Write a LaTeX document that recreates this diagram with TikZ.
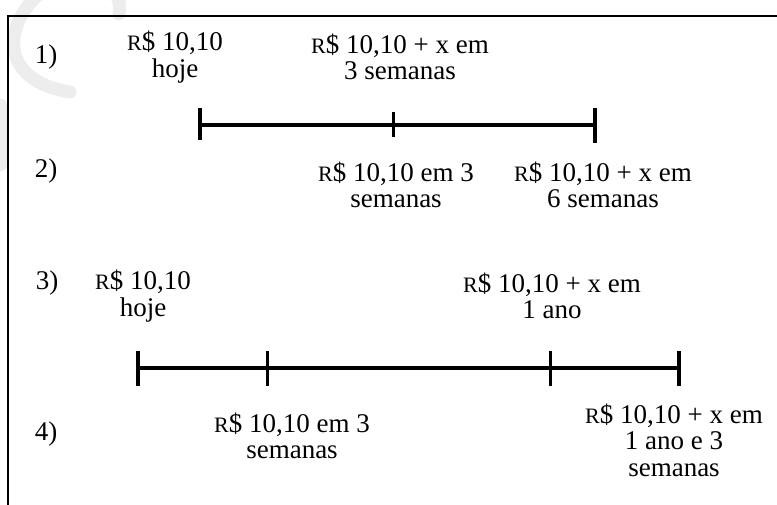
\documentclass[tikz,border=0pt]{standalone}
\usepackage{fontspec}
\setmainfont{Liberation Serif}
\newcommand\RSgn{{\fontsize{22bp}{22bp}\selectfont R}\$}
\tikzset{
  lbl/.style={inner sep=0pt, font=\fontsize{27bp}{26.5bp}\selectfont, align=center},
  axisline/.style={line width=4bp},
  endtick/.style={line width=4bp},
  midtick/.style={line width=3bp},
  frameline/.style={line width=2.5bp},
  markstroke/.style={line width=13bp, color=black!7, line cap=round}
}
\begin{document}
\begin{tikzpicture}[x=1bp,y=-1bp]
\useasboundingbox (0,0) rectangle (777,505);
% faint watermark artefact
\draw[markstroke] (42,-8) .. controls (5,20) and (-5,80) .. (70,92);
\draw[markstroke] (114,-8) .. controls (120,2) .. (119,14);
\draw[markstroke] (0,105) -- (0,165);
% frame
\coordinate (fa) at (8,505);
\coordinate (fb) at (8,16);
\coordinate (fc) at (777,16);
\draw[frameline] (fa) -- (fb) -- (fc);
% labels
\node[lbl] (n1) at (46,57) {1)};
\node[lbl] (n2) at (46,171) {2)};
\node[lbl] (n3) at (47,283) {3)};
\node[lbl] (n4) at (46,434) {4)};
% row 1 texts
\node[lbl] (a) at (175,57) {\RSgn{} 10,10\\hoje};
\node[lbl] (b) at (400,57) {\RSgn{} 10,10 + x em\\3 semanas};
% timeline 1
\coordinate (p1) at (200,125);
\coordinate (p2) at (393,125);
\coordinate (p3) at (595,125);
\draw[axisline] (p1) -- (p3);
\draw[endtick] ([yshift=17bp]p1) -- ([yshift=-15bp]p1);
\draw[midtick] ([yshift=13bp]p2) -- ([yshift=-12bp]p2);
\draw[endtick] ([yshift=17bp]p3) -- ([yshift=-18bp]p3);
% row 2 texts
\node[lbl] (c) at (396,185) {\RSgn{} 10,10 em 3\\semanas};
\node[lbl] (d) at (603,185) {\RSgn{} 10,10 + x em\\6 semanas};
% row 3 texts
\node[lbl] (e) at (143,296) {\RSgn{} 10,10\\hoje};
\node[lbl] (f) at (552,296) {\RSgn{} 10,10 + x em\\1 ano};
% timeline 2
\coordinate (q1) at (138,368);
\coordinate (q2) at (267,368);
\coordinate (q3) at (550,368);
\coordinate (q4) at (679,368);
\draw[axisline] (q1) -- (q4);
\draw[endtick] ([yshift=17bp]q1) -- ([yshift=-18bp]q1);
\draw[midtick] ([yshift=17bp]q2) -- ([yshift=-18bp]q2);
\draw[midtick] ([yshift=17bp]q3) -- ([yshift=-18bp]q3);
\draw[endtick] ([yshift=17bp]q4) -- ([yshift=-18bp]q4);
% row 4 texts
\node[lbl] (g) at (292,436) {\RSgn{} 10,10 em 3\\semanas};
\node[lbl] (h) at (674,440) {\RSgn{} 10,10 + x em\\1 ano e 3\\semanas};
\end{tikzpicture}
\end{document}
